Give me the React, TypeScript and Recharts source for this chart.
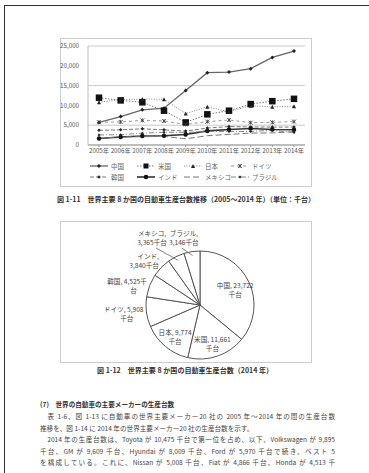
import { LineChart, Line, XAxis, YAxis, CartesianGrid, Legend, PieChart, Pie, Cell } from 'recharts';

const years = ['2005年', '2006年', '2007年', '2008年', '2009年', '2010年', '2011年', '2012年', '2013年', '2014年'];
const china = [5708, 7189, 8882, 9299, 13791, 18265, 18419, 19272, 22117, 23722];
const usa = [11947, 11264, 10781, 8672, 5709, 7743, 8661, 10336, 11066, 11661];
const japan = [10800, 11484, 11596, 11564, 7934, 9629, 8399, 9943, 9630, 9774];
const germany = [5758, 5820, 6213, 6046, 5210, 5906, 6311, 5649, 5718, 5908];
const korea = [3699, 3840, 4086, 3827, 3513, 4272, 4657, 4562, 4521, 4525];
const india = [1639, 2020, 2254, 2332, 2642, 3557, 3927, 4175, 3898, 3840];
const mexico = [1684, 2046, 2095, 2168, 1561, 2342, 2681, 3002, 3052, 3365];
const brazil = [2531, 2611, 2977, 3216, 3183, 3382, 3407, 3403, 3712, 3146];
const yTicks = [0, 5000, 10000, 15000, 20000, 25000];

const pieNames = ['中国', '米国', '日本', 'ドイツ', '韓国', 'インド', 'メキシコ', 'ブラジル'];
const pieValues = [23722, 11661, 9774, 5908, 4525, 3840, 3365, 3146];

const font = "'Noto Sans CJK JP', 'Noto Sans', sans-serif";

type Shape = 'diamond' | 'square' | 'triangle' | 'star' | 'circle' | 'none';

const series: { key: string; name: string; values: number[]; stroke: string; width: number; dash?: string; shape: Shape; size: number }[] = [
  { key: 'cn', name: '中国', values: china, stroke: '#666', width: 1.3, shape: 'diamond', size: 4 },
  { key: 'us', name: '米国', values: usa, stroke: '#777', width: 1, dash: '1.5 1.5', shape: 'square', size: 6.5 },
  { key: 'jp', name: '日本', values: japan, stroke: '#888', width: 1, dash: '1 1.5', shape: 'triangle', size: 4 },
  { key: 'de', name: 'ドイツ', values: germany, stroke: '#999', width: 1, dash: '3 3', shape: 'star', size: 4 },
  { key: 'kr', name: '韓国', values: korea, stroke: '#777', width: 1, dash: '4 2', shape: 'diamond', size: 3.5 },
  { key: 'in', name: 'インド', values: india, stroke: '#333', width: 1.6, shape: 'circle', size: 4.5 },
  { key: 'mx', name: 'メキシコ', values: mexico, stroke: '#777', width: 1, dash: '6 3', shape: 'none', size: 0 },
  { key: 'br', name: 'ブラジル', values: brazil, stroke: '#888', width: 1, dash: '5 2 1 2', shape: 'diamond', size: 3 },
];

const lineData = years.map((year, i) => {
  const row: Record<string, string | number> = { year };
  series.forEach((s) => {
    row[s.key] = s.values[i];
  });
  return row;
});

const pieData = pieNames.map((name, i) => ({ name, value: pieValues[i] }));

function Marker({ shape, x, y, size }: { shape: Shape; x: number; y: number; size: number }) {
  const h = size / 2;
  if (shape === 'square') return <rect x={x - h} y={y - h} width={size} height={size} fill="#111" />;
  if (shape === 'circle') return <circle cx={x} cy={y} r={h} fill="#111" />;
  if (shape === 'diamond')
    return <polygon points={`${x},${y - h} ${x + h},${y} ${x},${y + h} ${x - h},${y}`} fill="#222" />;
  if (shape === 'triangle')
    return <polygon points={`${x},${y - h} ${x + h},${y + h} ${x - h},${y + h}`} fill="#222" />;
  if (shape === 'star')
    return (
      <g stroke="#333" strokeWidth={0.8}>
        <line x1={x - h} y1={y - h} x2={x + h} y2={y + h} />
        <line x1={x - h} y1={y + h} x2={x + h} y2={y - h} />
        <line x1={x} y1={y - h} x2={x} y2={y + h} />
      </g>
    );
  return null;
}

const renderLegend = () => (
  <div
    style={{
      display: 'grid',
      gridTemplateColumns: 'repeat(4, 47px)',
      rowGap: 2,
      paddingTop: 1,
      fontSize: 6.5,
      color: '#666',
      fontFamily: font,
    }}
  >
    {series.map((s) => (
      <div key={s.key} style={{ display: 'flex', alignItems: 'center', gap: 3, height: 9 }}>
        <svg width={18} height={8}>
          <line x1={0} y1={4} x2={18} y2={4} stroke={s.stroke} strokeWidth={s.width} strokeDasharray={s.dash} />
          <Marker shape={s.shape} x={9} y={4} size={Math.min(s.size, 5)} />
        </svg>
        <span>{s.name}</span>
      </div>
    ))}
  </div>
);

const RAD = Math.PI / 180;

const renderPieLabel = (p: any) => {
  const { cx, cy, midAngle, outerRadius, index, name, value } = p;
  const v = value.toLocaleString('en-US');
  let lines: string[];
  if (index <= 3) lines = [`${name}, ${v}`, '千台'];
  else if (index === 4) lines = [`${name}, ${v}千`, '台'];
  else lines = [`${name},`, `${v}千台`];
  const cos = Math.cos(-midAngle * RAD);
  const sin = Math.sin(-midAngle * RAD);

  // top labels (メキシコ, ブラジル) sit on one row above the pie with a short leader
  if (index >= 6) {
    const x = cx + outerRadius * 2 * cos;
    const y = cy - outerRadius - 15;
    return (
      <g key={`lbl-${index}`}>
        <line
          x1={x + (index === 6 ? 4 : -2)}
          y1={y + 12}
          x2={cx + (outerRadius - 4) * cos}
          y2={cy + (outerRadius - 4) * sin}
          stroke="#666"
          strokeWidth={0.8}
        />
        <text x={x} y={y} textAnchor="middle" fontSize={6.6} fill="#444" fontFamily={font}>
          <tspan x={x} dy={0}>{lines[0]}</tspan>
          <tspan x={x} dy={9}>{lines[1]}</tspan>
        </text>
      </g>
    );
  }

  let r: number;
  let anchor: 'middle' | 'end' = 'middle';
  if (index <= 2) r = outerRadius * 0.72;
  else {
    r = outerRadius + 3;
    anchor = 'end';
  }
  const x = cx + r * cos;
  const y = cy + r * sin - (index === 5 ? 6 : 0);
  return (
    <g key={`lbl-${index}`}>
      <text x={x} y={y} textAnchor={anchor} fontSize={6.6} fill="#444" fontFamily={font}>
        <tspan x={x} dy={0}>{lines[0]}</tspan>
        <tspan x={anchor === 'end' && index !== 5 ? x - 10 : x} dy={9}>{lines[1]}</tspan>
      </text>
    </g>
  );
};

const lineStyle: React.CSSProperties = {
  position: 'absolute',
  left: 40,
  width: 295,
  fontSize: 6.6,
  lineHeight: '9px',
  color: '#444',
  whiteSpace: 'nowrap',
  fontFamily: font,
};

const bodyLines = [
  '　表 1-6、図 1-13 に自動車の世界主要メーカー20 社の 2005 年～2014 年の間の生産台数',
  '推移を、図 1-14 に 2014 年の世界主要メーカー20 社の生産台数を示す。',
  '　2014 年の生産台数は、Toyota が 10,475 千台で第一位を占め、以下、Volkswagen が 9,895',
  '千台、GM が 9,609 千台、Hyundai が 8,009 千台、Ford が 5,970 千台で続き、ベスト 5',
  'を構成している。これに、Nissan が 5,008 千台、Fiat が 4,866 千台、Honda が 4,513 千',
];

export default function App() {
  return (
    <div style={{ position: 'absolute', left: 0, top: 0, width: 369, height: 473, background: '#fff', overflow: 'hidden' }}>
      <div style={{ position: 'absolute', left: 4, top: 5, width: 400, height: 500, borderTop: '1.5px solid #333', borderLeft: '1.5px solid #333' }} />

      <div style={{ position: 'absolute', left: 60, top: 38, width: 252, height: 149, border: '1.5px solid #ccc', boxSizing: 'border-box' }} />
      <div style={{ position: 'absolute', left: 60, top: 38 }}>
        <LineChart width={252} height={149} data={lineData} margin={{ top: 8, right: 7, left: 0, bottom: 6 }}>
          <CartesianGrid vertical={false} stroke="#bbb" strokeWidth={0.8} />
          <XAxis
            dataKey="year"
            interval={0}
            padding={{ left: 11, right: 11 }}
            height={15}
            tick={{ fontSize: 6.2, fill: '#555', fontFamily: font }}
            tickSize={2}
            tickMargin={2}
            stroke="#999"
          />
          <YAxis
            width={28}
            domain={[0, 25000]}
            ticks={yTicks}
            tickFormatter={(v: number) => v.toLocaleString('en-US')}
            tick={{ fontSize: 6.2, fill: '#555', fontFamily: font }}
            tickLine={false}
            tickMargin={3}
            stroke="#bbb"
          />
          <Legend verticalAlign="bottom" align="left" content={renderLegend} wrapperStyle={{ left: 30, width: 190 }} />
          {series.map((s) => (
            <Line
              key={s.key}
              dataKey={s.key}
              name={s.name}
              stroke={s.stroke}
              strokeWidth={s.width}
              strokeDasharray={s.dash}
              isAnimationActive={false}
              dot={(p: any) => (
                <g key={`${s.key}-${p.index}`}>
                  <Marker shape={s.shape} x={p.cx} y={p.cy} size={s.size} />
                </g>
              )}
              activeDot={false}
            />
          ))}
        </LineChart>
      </div>

      <div style={{ position: 'absolute', left: 57, top: 194, width: 258, fontSize: 7, lineHeight: '10px', fontWeight: 700, color: '#333', textAlign: 'justify', textAlignLast: 'justify', whiteSpace: 'nowrap', fontFamily: font }}>
        図 1-11　世界主要 8 か国の自動車生産台数推移（2005～2014 年）（単位：千台）
      </div>

      <div style={{ position: 'absolute', left: 60, top: 221, width: 252, height: 142, border: '1.5px solid #ccc', boxSizing: 'border-box' }} />
      <div style={{ position: 'absolute', left: 60, top: 221 }}>
        <PieChart width={252} height={142}>
          <Pie
            data={pieData}
            dataKey="value"
            nameKey="name"
            cx={135}
            cy={79}
            outerRadius={54}
            startAngle={90}
            endAngle={-270}
            stroke="#555"
            strokeWidth={1}
            label={renderPieLabel}
            labelLine={false}
            isAnimationActive={false}
          >
            {pieData.map((d) => (
              <Cell key={d.name} fill="#fff" />
            ))}
          </Pie>
        </PieChart>
      </div>

      <div style={{ position: 'absolute', left: 97, top: 365, width: 176, fontSize: 7, lineHeight: '10px', fontWeight: 700, color: '#333', textAlign: 'justify', textAlignLast: 'justify', whiteSpace: 'nowrap', fontFamily: font }}>
        図 1-12　世界主要 8 か国の自動車生産台数（2014 年）
      </div>

      <div style={{ ...lineStyle, top: 400, fontWeight: 700, color: '#333' }}>(7)　世界の自動車の主要メーカーの生産台数</div>
      {bodyLines.map((t, i) => (
        <div
          key={i}
          style={{ ...lineStyle, top: 412 + i * 11.5, textAlign: 'justify', textAlignLast: i === 1 ? 'auto' : 'justify' }}
        >
          {t}
        </div>
      ))}
    </div>
  );
}
